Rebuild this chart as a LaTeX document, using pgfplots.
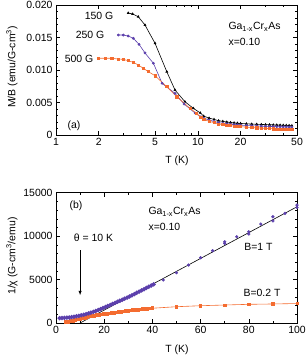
\documentclass[border=0pt]{standalone}
\usepackage{pgfplots}
\pgfplotsset{compat=1.18}
\usepackage{fontspec}
\setmainfont{Liberation Sans}
\definecolor{mpurple}{RGB}{92,64,172}
\definecolor{morange}{RGB}{244,108,48}
\begin{document}
\begin{tikzpicture}[x=1bp,y=1bp,font=\fontsize{10.5}{12}\selectfont]
\path[use as bounding box] (0,0) rectangle (307,357);
\pgfplotsset{every axis/.append style={
  scale only axis, width=241bp,
  axis line style={line width=0.7pt},
  every tick/.style={line width=0.5pt,black},
  major tick length=4pt, minor tick length=2.2pt,
  tick label style={font=\fontsize{10.5}{12}\selectfont},
  /pgf/number format/assume math mode=true,
}}
% ---------- top panel ----------
\begin{axis}[at={(56bp,222bp)}, anchor=south west, height=130bp,
  xmode=log, xmin=1, xmax=50, ymin=0, ymax=0.020,
  xtick={1,2,5,10,20,50}, xticklabels={1,2,5,10,20,50},
  minor xtick={3,4,6,7,8,9,30,40},
  ytick={0,0.005,0.010,0.015,0.020},
  yticklabels={0,0.005,0.010,0.015,0.020},
  minor y tick num=4, scaled y ticks=false,
  log ticks with fixed point]
\addplot[black, line width=0.6pt, mark=triangle*, mark size=1.1pt] coordinates {
(3.23,0.01877)(3.47,0.01862)(3.80,0.0182)(4.24,0.01692)(4.99,0.01411)
(6.04,0.00974)(6.9,0.00692)(8.1,0.00513)(9.3,0.0041)(10.4,0.0034)
(11,0.0029)(12,0.0026)(13,0.0024)(14,0.0022)(15,0.0021)(16,0.0020)
(17,0.00193)(18,0.00187)(19,0.00182)(20,0.00178)(22,0.00172)(24,0.00168)
(26,0.00165)(28,0.00162)(30,0.00160)(32,0.00158)(34,0.00156)(36,0.00154)
(38,0.00152)(40,0.00150)(42,0.00148)(44,0.00146)(46,0.00144)};
\addplot[mpurple, line width=0.6pt, mark=*, mark size=1.1pt] coordinates {
(2.75,0.01538)(2.98,0.01538)(3.23,0.01523)(3.51,0.01487)(3.85,0.01395)
(4.24,0.01262)(4.86,0.01103)(5.6,0.00795)(6.9,0.0064)(8.0,0.00477)
(9.6,0.00334)(10.5,0.0028)(11,0.0026)(12,0.0023)(13,0.0021)(14,0.0019)
(15,0.0018)(16,0.00172)(17,0.00166)(18,0.00160)(19,0.00156)(20,0.00152)
(22,0.00146)(24,0.00142)(26,0.00139)(28,0.00136)(30,0.00134)(32,0.00132)
(34,0.0013)(36,0.00128)(38,0.00127)(40,0.00126)(42,0.00125)(44,0.00124)(46,0.00123)};
\addplot[morange, line width=0.6pt, mark=square*, mark size=1.1pt] coordinates {
(2.0,0.0118)(2.22,0.0118)(2.47,0.0118)(2.75,0.01169)(2.98,0.01164)
(3.23,0.01143)(3.51,0.01118)(3.80,0.01077)(4.13,0.01026)(4.48,0.00974)
(4.99,0.00912)(6.04,0.00743)(7.1,0.00589)(8.8,0.0041)(9.8,0.00334)
(10.5,0.0027)(11,0.0024)(12,0.0021)(13,0.0019)(14,0.0017)(15,0.0016)
(16,0.00150)(17,0.00143)(18,0.00137)(19,0.00132)(20,0.00128)(22,0.00121)
(24,0.00115)(26,0.0011)(28,0.00106)(30,0.00102)(32,0.00099)(34,0.00096)
(36,0.00093)(38,0.00091)(40,0.00089)(42,0.00087)(44,0.00085)(46,0.00083)};
\end{axis}
% ---------- bottom panel ----------
\begin{axis}[at={(56bp,34bp)}, anchor=south west, height=130.3bp,
  xmin=0, xmax=100, ymin=0, ymax=15000,
  xtick={0,20,40,60,80,100}, minor x tick num=1,
  ytick={0,5000,10000,15000}, yticklabels={0,5000,10000,15000},
  minor y tick num=4, scaled y ticks=false]
\addplot[morange, line width=1.4pt, mark=square*, mark size=1.2pt] coordinates {
(4,100)(5,150)(6,200)(7,260)(8,320)(9,400)(10,480)(11,550)(12,620)(13,680)
(14,740)(15,790)(16,840)(17,880)(18,930)(19,970)(20,1010)(21,1050)(22,1090)
(23,1130)(24,1170)(25,1200)(26,1240)(27,1280)(28,1320)(29,1360)(30,1400)
(31,1430)(32,1460)(33,1490)(34,1520)(35,1550)(36,1580)(37,1610)(38,1640)
(39,1670)(40,1700)};
\addplot[morange, line width=0.6pt, mark=square*, mark size=1.2pt] coordinates {
(40,1700)(50,1875)(60,1990)(70,2070)(80,2150)(90,2190)(100,2240)};
\addplot[mpurple, line width=1.4pt, mark=*, mark size=1.4pt] coordinates {
(1.5,560)(2.5,570)(3.5,590)(4.5,610)(5.5,640)(6.5,680)(7.5,720)(8.5,770)
(9.5,830)(10.5,890)(11.5,950)(12.5,1030)(13.5,1110)(14.5,1190)(15.5,1280)
(16.5,1380)(17.5,1490)(18.5,1600)(19.5,1720)(20.5,1840)(21.5,1960)
(22.5,2080)(23.5,2200)(24.5,2320)(25.5,2440)(26.5,2560)(27.5,2680)
(28.5,2800)(29.5,2930)(30.5,3060)(31.5,3190)(32.5,3330)(33.5,3470)
(34.5,3610)(35.5,3750)(36.5,3890)(37.5,4030)(38.5,4170)(39.5,4310)(40.5,4450)};
\addplot[mpurple, only marks, mark=*, mark size=1.4pt] coordinates {
(44.5,4950)(50,5790)(55,6670)(60,7510)(65,8320)(70,9160)(70,9350)(75,9930)
(80,10500)(80,10240)(85,11390)(90,12230)(90,11750)(95,12620)(100,13570)(100,13300)};
\addplot[black, line width=0.6pt] coordinates {(10,0)(100,13380)};
\draw[-{latex}, line width=0.5pt] (axis cs:10,8400) -- (axis cs:10,3200);
\end{axis}
% ---------- labels ----------
\node[rotate=90] at (12,290) {M/B (emu/G-cm\textsuperscript{3})};
\node at (177,196) {T (K)};
\node[rotate=90] at (12,101) {1/χ (G-cm\textsuperscript{3}/emu)};
\node at (177,7) {T (K)};
% top annotations
\node at (99,341.3) {150 G};
\node at (90,322) {250 G};
\node at (79,298) {500 G};
\node at (74,231) {(a)};
\node[anchor=west] at (225,330.3) {Ga\textsubscript{1-x}Cr\textsubscript{x}As};
\node[anchor=west] at (225,315) {x=0.10};
% bottom annotations
\node at (76,151) {(b)};
\node[anchor=west] at (145,145.3) {Ga\textsubscript{1-x}Cr\textsubscript{x}As};
\node[anchor=west] at (145,130.3) {x=0.10};
\node at (93.5,119.3) {θ = 10 K};
\node at (258.5,110) {B=1 T};
\node at (262,64) {B=0.2 T};
\end{tikzpicture}
\end{document}
